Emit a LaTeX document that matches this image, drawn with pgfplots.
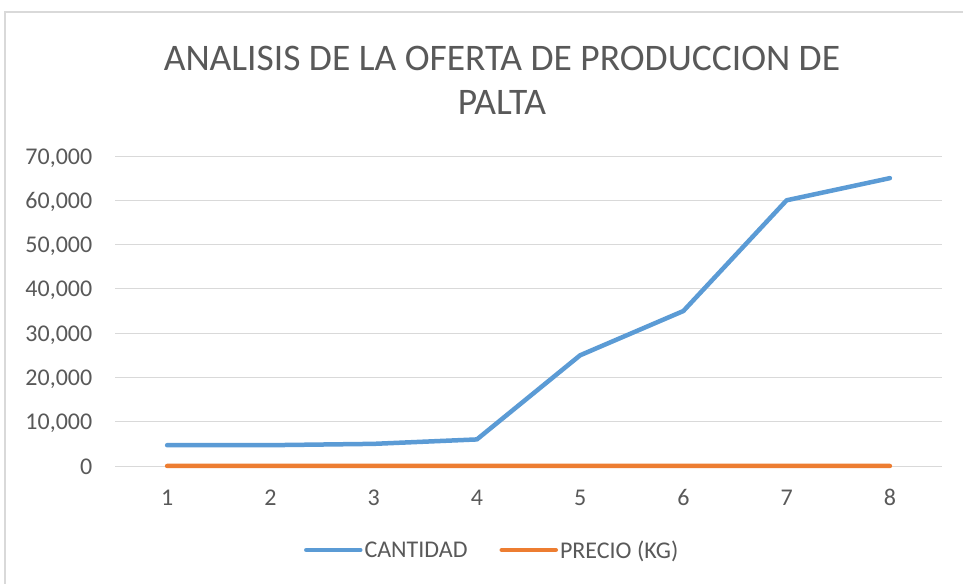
\documentclass[border=0pt]{standalone}
\usepackage{pgfplots}
\pgfplotsset{compat=1.18}
\usepackage{fontspec}
\setmainfont{Carlito}
\definecolor{cblue}{HTML}{5B9BD5}
\definecolor{corange}{HTML}{ED7D31}
\definecolor{cgrid}{HTML}{D9D9D9}
\definecolor{ctext}{HTML}{595959}
\begin{document}
\begin{tikzpicture}
\useasboundingbox (0,0) rectangle (963bp,584bp);
\fill[white] (0,0) rectangle (963bp,584bp);
\draw[cgrid, line width=1.5bp] (5bp,0) -- (5bp,572bp) -- (963bp,572bp);
\begin{axis}[
  at={(115.5bp,118bp)}, anchor=south west,
  scale only axis, width=826bp, height=310bp,
  xmin=0.5, xmax=8.5, ymin=0, ymax=70000,
  xtick={1,2,3,4,5,6,7,8},
  ytick={0,10000,20000,30000,40000,50000,60000,70000},
  scaled y ticks=false,
  /pgf/number format/.cd, fixed, 1000 sep={,}, assume math mode=true,
  /pgfplots/.cd,
  axis line style={draw=none},
  major tick length=0pt,
  ymajorgrids, grid style={cgrid, line width=1bp},
  tick label style={font=\fontsize{24bp}{28bp}\selectfont, text=ctext},
  yticklabel style={anchor=base east, inner sep=0pt, xshift=-23bp, yshift=-8bp},
  xticklabel style={anchor=base, inner sep=0pt, yshift=-39bp},
  legend columns=2,
  legend style={at={(0.456,-0.271)}, anchor=center, draw=none, fill=none,
    font=\fontsize{24bp}{28bp}\selectfont, text=ctext,
    /tikz/every even column/.append style={column sep=30bp},
    inner sep=0pt},
  legend image code/.code={\draw[#1, line width=4.5bp, line cap=round] (0bp,0bp) -- (54bp,0bp);},
  clip=false,
]
\addplot[cblue, line width=4.5bp, line cap=round, line join=round] coordinates {
 (1,4700) (2,4700) (3,5000) (4,6000) (5,25000) (6,35000) (7,60000) (8,65000)};
\addlegendentry{CANTIDAD}
\addplot[corange, line width=4.5bp, line cap=round, line join=round] coordinates {
 (1,3) (2,3.5) (3,4) (4,4) (5,5) (6,5) (7,6) (8,6)};
\addlegendentry{PRECIO (KG)}
\end{axis}
\node[anchor=base, text=ctext, font=\fontsize{37.5bp}{42bp}\selectfont, inner sep=0pt] at (502bp,513bp) {ANALISIS DE LA OFERTA DE PRODUCCION DE};
\node[anchor=base, text=ctext, font=\fontsize{37.5bp}{42bp}\selectfont, inner sep=0pt] at (502bp,469bp) {PALTA};
\end{tikzpicture}
\end{document}
